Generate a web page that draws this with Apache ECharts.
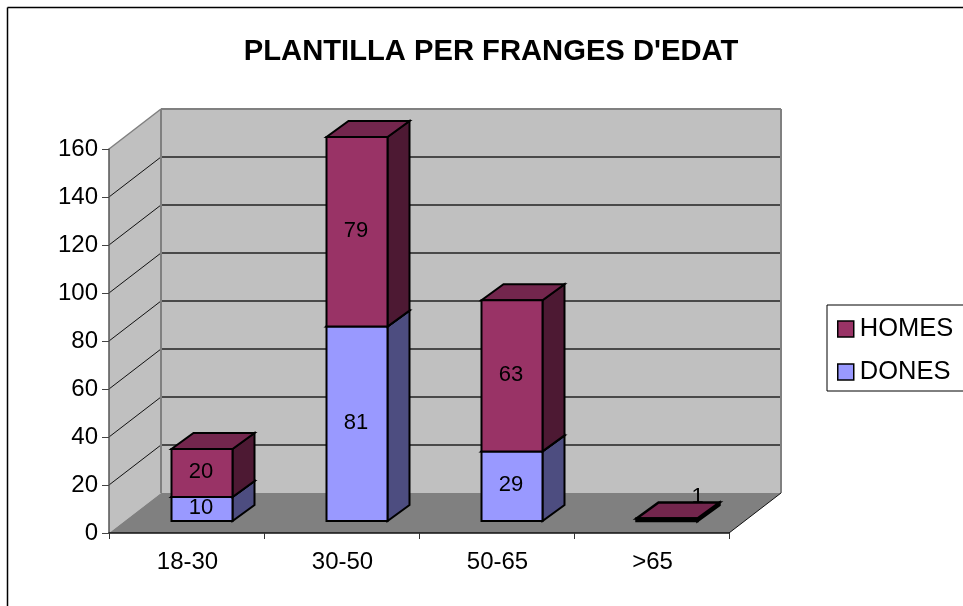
<!DOCTYPE html>
<html><head><meta charset="utf-8">
<style>html,body{margin:0;padding:0;background:#fff}#c{width:963px;height:606px}</style>
<script src="https://cdn.jsdelivr.net/npm/echarts@6/dist/echarts.min.js"></script>
</head><body><div id="c"></div>
<script>
const categories = ['18-30', '30-50', '50-65', '>65'];
const dones = [10, 81, 29, 0];
const homes = [20, 79, 63, 1];
const yTicks = [20, 40, 60, 80, 100, 120, 140];
const FONT = '"Liberation Sans", Arial, sans-serif';
const WALL = [52, -40];
const BAR_DEPTH = [22, -16];
const BAR_BASE = [15.5, -12];
const BAR_W = 61;

const chart = echarts.init(document.getElementById('c'), null, {renderer: 'canvas'});

function poly(points, fill, stroke, lw) {
  return {type: 'polygon', shape: {points}, style: {fill, stroke: stroke || null, lineWidth: lw || 0, lineJoin: 'miter'}};
}
function seg(a, b, stroke, lw) {
  return {type: 'line', shape: {x1: a[0], y1: a[1], x2: b[0], y2: b[1]}, style: {stroke, lineWidth: lw}};
}
function renderWalls(params, api) {
  const cs = params.coordSys;
  const xl = cs.x, xr = cs.x + cs.width;
  const y0 = api.coord([0, 0])[1], yT = api.coord([0, 160])[1];
  const dx = WALL[0], dy = WALL[1];
  const kids = [
    poly([[xl, y0], [xl, yT], [xl + dx, yT + dy], [xl + dx, y0 + dy]], '#c0c0c0'),
    poly([[xl + dx, yT + dy], [xr + dx, yT + dy], [xr + dx, y0 + dy], [xl + dx, y0 + dy]], '#c0c0c0'),
    poly([[xl, y0], [xr, y0], [xr + dx, y0 + dy], [xl + dx, y0 + dy]], '#808080')
  ];
  yTicks.forEach(v => {
    const y = api.coord([0, v])[1];
    kids.push(seg([xl, y], [xl + dx, y + dy], '#111', 1));
    kids.push(seg([xl + dx, y + dy], [xr + dx, y + dy], '#222', 1.5));
  });
  kids.push(seg([xl, yT], [xl + dx, yT + dy], '#808080', 1.5));
  kids.push(seg([xl + dx, yT + dy], [xr + dx, yT + dy], '#808080', 2));
  kids.push(seg([xl + dx, yT + dy], [xl + dx, y0 + dy], '#808080', 2));
  kids.push(seg([xr + dx, yT + dy], [xr + dx, y0 + dy], '#808080', 2));
  kids.push(seg([xr, y0], [xr + dx, y0 + dy], '#111', 1));
  return {type: 'group', children: kids};
}
function renderBar(colors) {
  return function (params, api) {
    const i = api.value(0), lo = api.value(1), hi = api.value(2);
    if (hi <= lo) return {type: 'group', children: []};
    const cx = api.coord([i, 0])[0] + BAR_BASE[0];
    const yLo = api.coord([i, lo])[1] + BAR_BASE[1];
    const yHi = api.coord([i, hi])[1] + BAR_BASE[1];
    const l = cx - BAR_W / 2, r = cx + BAR_W / 2;
    const dx = BAR_DEPTH[0], dy = BAR_DEPTH[1];
    const flat = (yLo - yHi) < 6;
    const line = flat ? 2.5 : 2;
    const kids = [
      poly([[r, yLo], [r, yHi], [r + dx, yHi + dy], [r + dx, yLo + dy]], colors.side, '#000', line),
      poly([[l, yHi], [r, yHi], [r + dx, yHi + dy], [l + dx, yHi + dy]], colors.top, '#000', line),
      poly([[l, yLo], [r, yLo], [r, yHi], [l, yHi]], colors.front, '#000', line)
    ];
    kids.push({
      type: 'text', z2: 10,
      style: {
        text: String(hi - lo), x: flat ? r : cx - 1, y: flat ? yHi - 22 : (yLo + yHi) / 2 - 1,
        align: 'center', verticalAlign: 'middle', fill: '#000',
        font: '22px ' + FONT
      }
    });
    return {type: 'group', children: kids};
  };
}
const donesRows = categories.map((c, i) => [i, 0, dones[i]]);
const homesRows = categories.map((c, i) => [i, dones[i], dones[i] + homes[i]]);

chart.setOption({
  animation: false,
  backgroundColor: '#fff',
  title: {
    text: "PLANTILLA PER FRANGES D'EDAT", left: 486, top: 32, textAlign: 'center',
    textStyle: {fontFamily: FONT, fontWeight: 'bold', fontSize: 29.2, color: '#000'}
  },
  graphic: [
    {type: 'line', z: -1, shape: {x1: 7.5, y1: 7.5, x2: 963, y2: 7.5}, style: {stroke: '#000', lineWidth: 1.5}},
    {type: 'line', z: -1, shape: {x1: 7.5, y1: 7.5, x2: 7.5, y2: 606}, style: {stroke: '#000', lineWidth: 1.5}}
  ],
  legend: {
    orient: 'vertical', left: 827, top: 305,
    data: ['HOMES', 'DONES'], icon: 'rect', itemWidth: 16, itemHeight: 16, itemGap: 17,
    padding: [11, 30, 6, 10], borderColor: '#000', borderWidth: 1, backgroundColor: '#fff',
    textStyle: {fontFamily: FONT, fontSize: 25.5, color: '#000', padding: [0, 0, 3, 1]},
    selectedMode: false, itemStyle: {borderColor: '#000', borderWidth: 1.5}
  },
  grid: {left: 109, top: 149, width: 620, height: 384, containLabel: false},
  xAxis: {
    type: 'category', data: categories, z: 5,
    axisLine: {lineStyle: {color: '#111', width: 1.5}},
    axisTick: {show: true, length: 6, alignWithLabel: false, lineStyle: {color: '#333'}},
    axisLabel: {fontFamily: FONT, fontSize: 24, color: '#000', margin: 17, padding: [0, 0, 0, 2]}
  },
  yAxis: {
    type: 'value', min: 0, max: 160, interval: 20, z: 5,
    axisLine: {show: true, lineStyle: {color: '#555', width: 1.5}},
    axisTick: {show: true, length: 7, lineStyle: {color: '#444'}},
    splitLine: {show: false},
    axisLabel: {fontFamily: FONT, fontSize: 24, color: '#000', margin: 11}
  },
  series: [
    {type: 'custom', name: 'walls', z: 1, silent: true, renderItem: renderWalls, data: [[0, 0]], encode: {x: 0, y: 1}, clip: false},
    {type: 'custom', name: 'DONES', z: 3, itemStyle: {color: '#9999ff'}, clip: false,
      renderItem: renderBar({front: '#9999ff', side: '#4d4d80', top: '#7373bf'}), data: donesRows, encode: {x: 0, y: [1, 2]}},
    {type: 'custom', name: 'HOMES', z: 4, itemStyle: {color: '#993366'}, clip: false,
      renderItem: renderBar({front: '#993366', side: '#4d1933', top: '#73264d'}), data: homesRows, encode: {x: 0, y: [1, 2]}}
  ]
});
</script></body></html>
